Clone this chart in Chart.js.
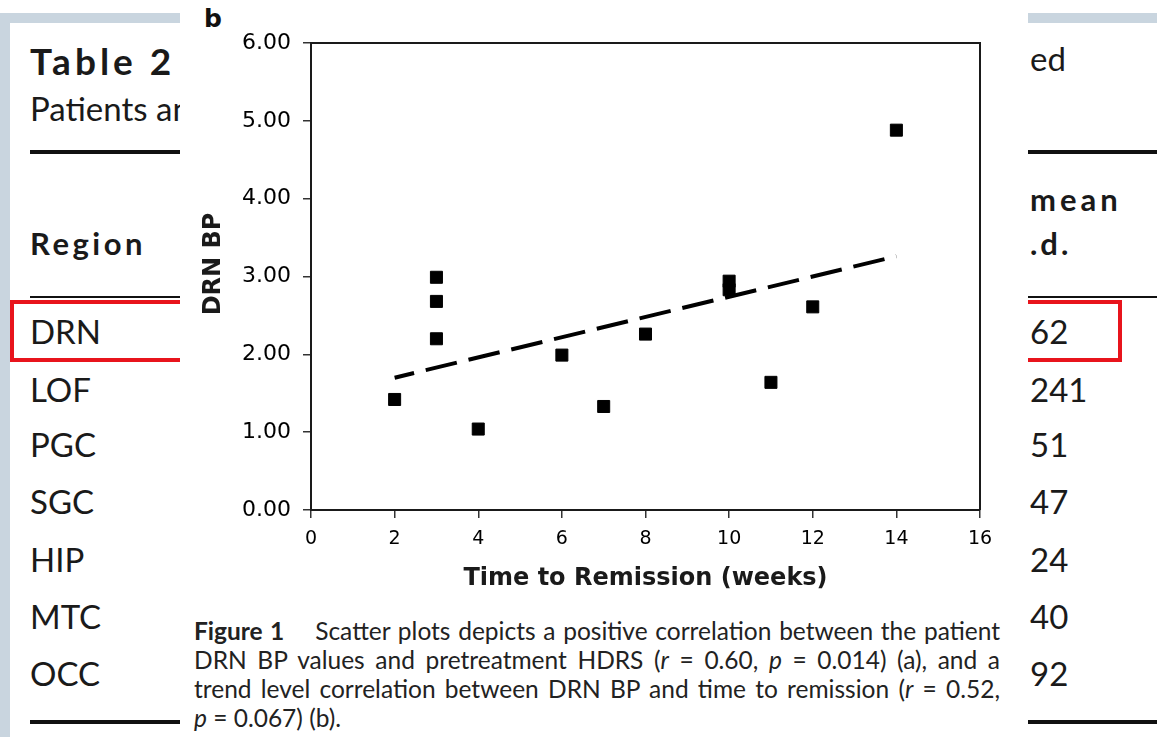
<!DOCTYPE html>
<html>
<head>
<meta charset="utf-8">
<script src="https://cdn.jsdelivr.net/npm/chart.js@4.4.0/dist/chart.umd.min.js"></script>
<style>
    body { margin: 0; width: 1157px; height: 737px; position: relative; overflow: hidden; background: #fff; }
    .abs { position: absolute; white-space: nowrap; }
    .band { background: #c9d5df; position: absolute; }
    .rule { position: absolute; background: #111; }
    .tbl { font-family: Lato, "Open Sans", sans-serif; color: #1a1a1a; }
    .bold { font-weight: bold; }
    #figure { position: absolute; left: 180px; top: 0; width: 848px; height: 737px; background: #fff; z-index: 5; }
    #chartBox { position: absolute; left: 0; top: 0; width: 848px; height: 600px; }
    .cap { position: absolute; left: 14px; font-family: Lato, sans-serif; font-size: 24.5px; color: #222; white-space: nowrap; }
    .just { width: 806px; text-align: justify; text-align-last: justify; }
</style>
</head>
<body>

<div class="band" style="left:0;top:13px;width:1157px;height:10px"></div>
<div class="band" style="left:0;top:13px;width:10px;height:724px"></div>

<div class="abs tbl bold" style="left:30px;top:38px;font-size:37px;letter-spacing:4px">Table 2</div>
<div class="abs tbl" style="left:30px;top:88px;font-size:33px">Patients and</div>
<div class="abs tbl" style="left:1030px;top:38px;font-size:33px">ed</div>
<div class="rule" style="left:30px;top:150px;width:1127px;height:4px"></div>
<div class="abs tbl bold" style="left:30px;top:224px;font-size:31px;letter-spacing:3.5px">Region</div>
<div class="abs tbl bold" style="left:1030px;top:180px;font-size:31px;letter-spacing:4px">mean</div>
<div class="abs tbl bold" style="left:1030px;top:224px;font-size:31px;letter-spacing:3px">.d.</div>
<div class="rule" style="left:30px;top:296px;width:1127px;height:2px"></div>
<div id="rows"></div>
<div class="rule" style="left:30px;top:720px;width:1127px;height:4px"></div>
<div class="abs" style="left:10px;top:300px;width:1112px;height:62px;border:4px solid #e8141c;box-sizing:border-box"></div>

<div id="figure">
    <div class="abs" style="left:24px;top:4px;font-family:'DejaVu Sans';font-weight:bold;font-size:25px;color:#111">b</div>
    <div id="chartBox"><canvas id="scatterChart"></canvas></div>
    <div class="cap just" style="top:616px"><b>Figure 1</b>&nbsp;&nbsp;&nbsp; Scatter plots depicts a positive correlation between the patient</div>
    <div class="cap just" style="top:645px">DRN BP values and pretreatment HDRS (<i>r</i> = 0.60, <i>p</i> = 0.014) (a), and a</div>
    <div class="cap just" style="top:674px">trend level correlation between DRN BP and time to remission (<i>r</i> = 0.52,</div>
    <div class="cap" style="top:703px"><i>p</i> = 0.067) (b).</div>
</div>

<script>
// table rows visible behind the figure
const regions = ["DRN", "LOF", "PGC", "SGC", "HIP", "MTC", "OCC"];
const sdTail = ["62", "241", "51", "47", "24", "40", "92"];
const rowTops = [311, 369, 424, 481, 539, 596, 653];

// scatter data (time to remission vs DRN BP)
const weeks = [2, 3, 3, 3, 4, 6, 7, 8, 10, 10, 11, 12, 14];
const drnBP = [1.42, 2.99, 2.68, 2.20, 1.04, 1.99, 1.33, 2.26, 2.94, 2.83, 1.64, 2.61, 4.88];

// regression line end points
const fitWeeks = [2, 14];
const fitBP = [1.70, 3.26];

// axes
const xMin = 0, xMax = 16, xStep = 2;
const yMin = 0, yMax = 6, yStep = 1;

const rowsEl = document.getElementById("rows");
regions.forEach((r, i) => {
    rowsEl.insertAdjacentHTML("beforeend",
        `<div class="abs tbl" style="left:30px;top:${rowTops[i]}px;font-size:33px">${r}</div>` +
        `<div class="abs tbl" style="left:1030px;top:${rowTops[i]}px;font-size:33px">${sdTail[i]}</div>`);
});

// box lines on top and right of the plot area
const frameBox = {
    id: "frameBox",
    beforeDatasetsDraw(chart) {
        const { ctx, chartArea: a } = chart;
        ctx.save();
        ctx.strokeStyle = "#1a1a1a";
        ctx.lineWidth = 2;
        ctx.beginPath();
        ctx.moveTo(a.left, a.top);
        ctx.lineTo(a.right, a.top);
        ctx.lineTo(a.right, a.bottom);
        ctx.stroke();
        ctx.restore();
    }
};

const ctx = document.getElementById("scatterChart");
new Chart(ctx, {
    type: "scatter",
    data: {
        datasets: [
            {
                label: "DRN BP",
                data: weeks.map((w, i) => ({ x: w, y: drnBP[i] })),
                pointStyle: "rect",
                pointRadius: 8.5,
                pointBackgroundColor: "#000",
                pointBorderColor: "#000",
                pointBorderWidth: 1
            },
            {
                type: "line",
                label: "fit",
                data: fitWeeks.map((w, i) => ({ x: w, y: fitBP[i] })),
                borderColor: "#000",
                borderWidth: 4,
                borderDash: [32, 12],
                borderDashOffset: 12,
                borderCapStyle: "butt",
                pointRadius: 0,
                fill: false
            }
        ]
    },
    options: {
        responsive: true,
        maintainAspectRatio: false,
        animation: false,
        events: [],
        layout: { padding: { top: 43, right: 48, left: 0, bottom: 0 } },
        plugins: { legend: { display: false }, tooltip: { enabled: false } },
        scales: {
            x: {
                type: "linear",
                min: xMin, max: xMax,
                afterFit: s => { s.height = 90; },
                border: { display: true, color: "#1a1a1a", width: 2 },
                grid: { drawOnChartArea: false, drawTicks: true, tickLength: 8, color: "#333", lineWidth: 1.5 },
                ticks: { stepSize: xStep, padding: 10, color: "#000", font: { family: "DejaVu Sans", size: 19 } },
                title: {
                    display: true,
                    text: "Time to Remission (weeks)",
                    color: "#1a1a1a",
                    font: { family: "DejaVu Sans", size: 24, weight: "bold" },
                    padding: { top: 0, bottom: 7 }
                }
            },
            y: {
                min: yMin, max: yMax,
                afterFit: s => { s.width = 131; },
                border: { display: true, color: "#1a1a1a", width: 2 },
                grid: { drawOnChartArea: false, drawTicks: true, tickLength: 8, color: "#333", lineWidth: 1.5 },
                ticks: {
                    stepSize: yStep, padding: 12, color: "#000",
                    font: { family: "DejaVu Sans", size: 22 },
                    callback: v => v.toFixed(2)
                },
                title: {
                    display: true,
                    text: "   DRN BP",
                    color: "#1a1a1a",
                    font: { family: "DejaVu Sans", size: 24, weight: "bold" },
                    padding: { top: 19, bottom: 0 }
                }
            }
        }
    },
    plugins: [frameBox]
});
</script>
</body>
</html>
